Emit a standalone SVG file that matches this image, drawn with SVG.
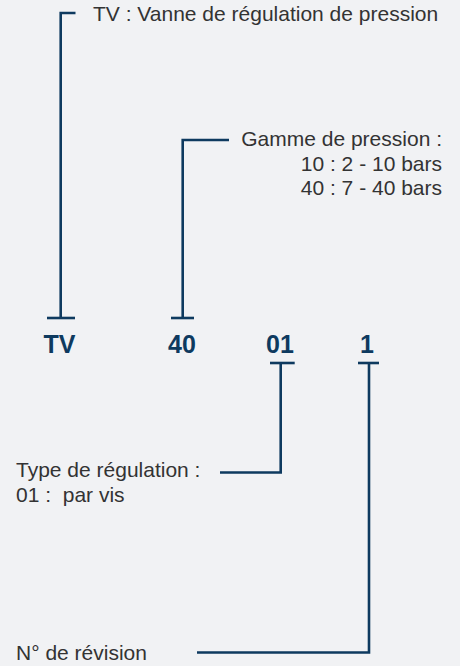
<svg xmlns="http://www.w3.org/2000/svg" width="460" height="666" viewBox="0 0 460 666">
<style>
.bg{fill:#f1f2f4}
.ln{fill:none;stroke:#0e3a5f;stroke-width:2.6}
.t{font-family:"Liberation Sans",Arial,sans-serif;font-size:21px;fill:#333}
.code{font-family:"Liberation Sans",Arial,sans-serif;font-size:25px;font-weight:bold;fill:#0e3a5f;text-anchor:middle}
</style>
<rect class="bg" width="460" height="666"/>
<g id="connectors">
<polyline class="ln" points="75.5,13 60.7,13 60.7,318"/>
<line class="ln" x1="47" y1="318" x2="75" y2="318"/>
<polyline class="ln" points="229,140 182.7,140 182.7,318"/>
<line class="ln" x1="171" y1="318" x2="194" y2="318"/>
<polyline class="ln" points="220,472.5 280.7,472.5 280.7,363"/>
<line class="ln" x1="270" y1="363" x2="294.7" y2="363"/>
<polyline class="ln" points="197,652.5 369,652.5 369,363"/>
<line class="ln" x1="358" y1="363" x2="379" y2="363"/>
</g>
<g id="label-tv"><text class="t" x="93" y="21">TV : Vanne de régulation de pression</text></g>
<g id="label-gamme"><text class="t" text-anchor="end" x="442" y="146">Gamme de pression :</text><text class="t" text-anchor="end" x="442" y="171">10 : 2 - 10 bars</text><text class="t" text-anchor="end" x="442" y="195">40 : 7 - 40 bars</text></g>
<g id="code-tv"><text class="code" x="59.5" y="353">TV</text></g>
<g id="code-40"><text class="code" x="182" y="353">40</text></g>
<g id="code-01"><text class="code" x="280" y="353">01</text></g>
<g id="code-1"><text class="code" x="367" y="353">1</text></g>
<g id="label-type"><text class="t" x="16" y="477">Type de régulation :</text><text class="t" x="16" y="502" xml:space="preserve">01 :  par vis</text></g>
<g id="label-rev"><text class="t" x="16" y="660">N° de révision</text></g>
</svg>
